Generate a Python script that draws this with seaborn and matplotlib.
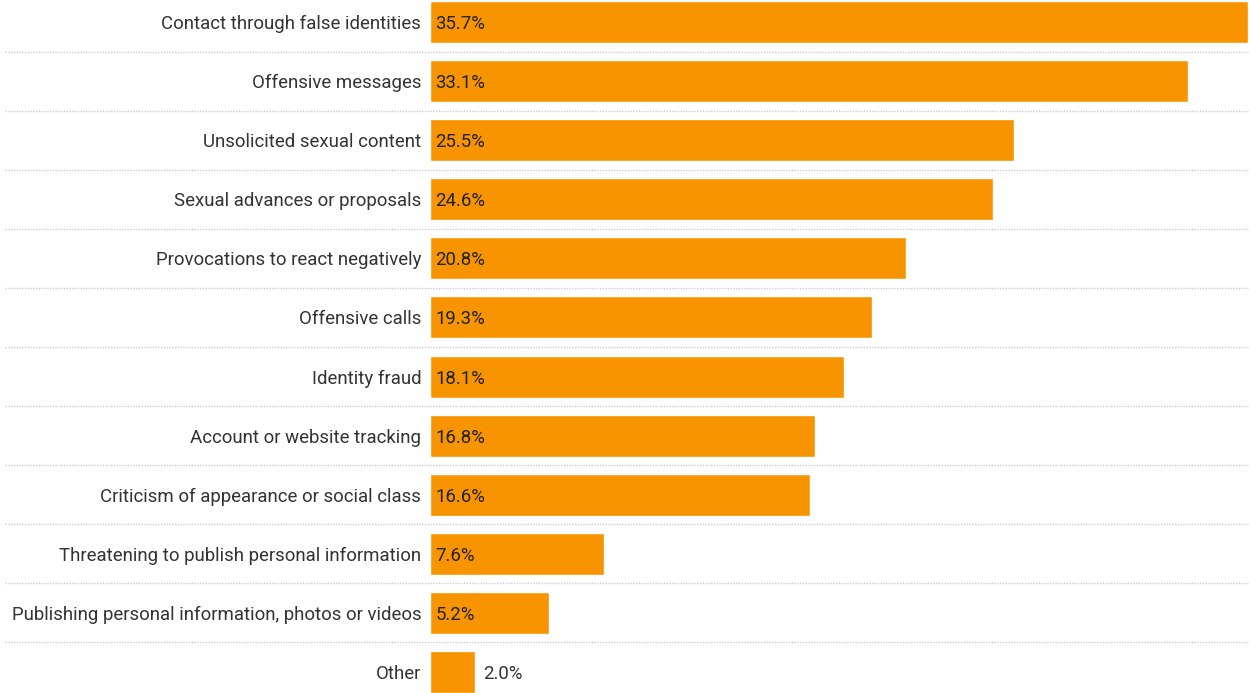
import matplotlib
matplotlib.use("Agg")
import matplotlib.pyplot as plt
import seaborn as sns
import pandas as pd

categories = [
    "Contact through false identities",
    "Offensive messages",
    "Unsolicited sexual content",
    "Sexual advances or proposals",
    "Provocations to react negatively",
    "Offensive calls",
    "Identity fraud",
    "Account or website tracking",
    "Criticism of appearance or social class",
    "Threatening to publish personal information",
    "Publishing personal information, photos or videos",
    "Other",
]
values = [35.7, 33.1, 25.5, 24.6, 20.8, 19.3, 18.1, 16.8, 16.6, 7.6, 5.2, 2.0]
value_labels = ["35.7%", "33.1%", "25.5%", "24.6%", "20.8%", "19.3%",
                "18.1%", "16.8%", "16.6%", "7.6%", "5.2%", "2.0%"]

BAR = "#F79400"
TEXT = "#333333"

sns.set_theme(style="white")
plt.rcParams["font.family"] = ["Roboto", "DejaVu Sans"]

df = pd.DataFrame({"category": categories, "value": values})

fig = plt.figure(figsize=(12.5, 6.93), dpi=100)
ax = fig.add_axes([429.5 / 1250, 0.0, 820.5 / 1250, 1.0])

sns.barplot(data=df, x="value", y="category", orient="h", color=BAR,
            saturation=1, width=0.71, ax=ax)

ax.set_xlim(0, 35.8)
ax.set_ylim(11.355, -0.372)
ax.set_xlabel("")
ax.set_ylabel("")
ax.set_xticks([])
ax.tick_params(axis="y", length=0, pad=6, labelsize=13.4, labelcolor=TEXT)
for s in ax.spines.values():
    s.set_visible(False)

# dotted separators between rows, running under the category labels
for i in range(len(categories) - 1):
    ax.axhline(i + 0.5, xmin=-424.5 / 820.5, xmax=1.0, clip_on=False,
               color="#cccccc", lw=1.0, ls=(0, (1, 1)))

# value labels: inside the bar when it is wide enough, otherwise just after it
for i, (v, lab) in enumerate(zip(values, value_labels)):
    if v >= 4:
        ax.text(0.25, i, lab, va="center_baseline", ha="left", fontsize=13.4,
                color="#222222")
    else:
        ax.text(v + 0.35, i, lab, va="center_baseline", ha="left", fontsize=13.4,
                color=TEXT)

fig.savefig("out.png", dpi=100, facecolor="white")
